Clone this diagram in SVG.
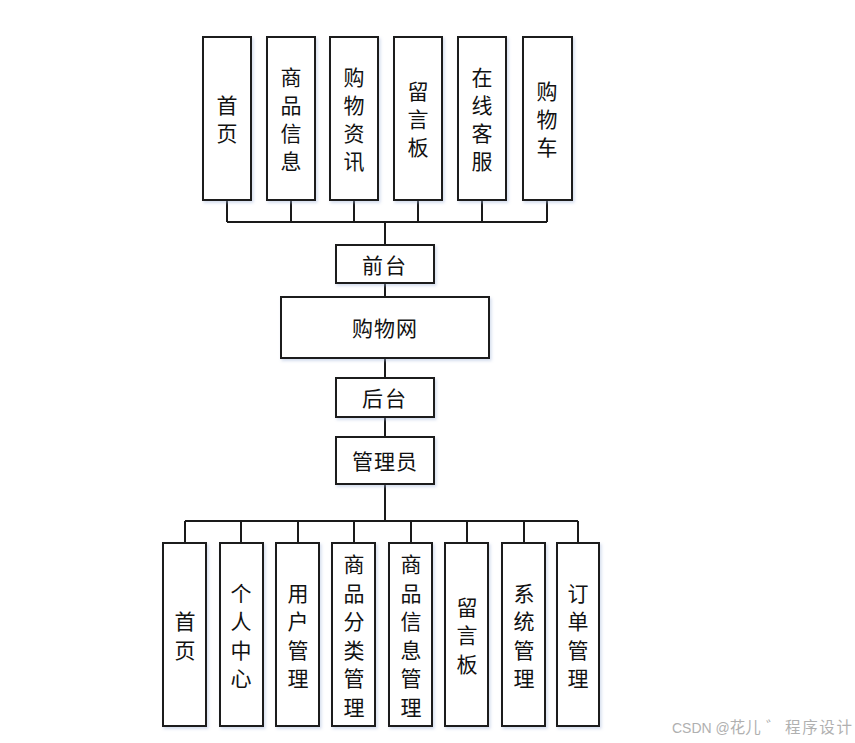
<svg xmlns="http://www.w3.org/2000/svg" width="855" height="743" viewBox="0 0 855 743">
<style>
.b{fill:#fff;stroke:#1a1a1a;stroke-width:2;filter:url(#sh)}
.t{font-family:"Noto Sans CJK SC","Noto Sans",sans-serif;font-size:21px;fill:#111;text-anchor:middle;dominant-baseline:central}
.c{fill:none;stroke:#1a1a1a;stroke-width:2}
.w{font-family:"Liberation Sans","Noto Sans CJK SC",sans-serif;font-size:14px;fill:#b0b0b0}
.wc{font-family:"Noto Sans CJK SC",sans-serif;font-size:15.5px}
</style>
<defs>
<filter id="sh" x="-20%" y="-20%" width="140%" height="140%">
<feDropShadow dx="1.5" dy="2" stdDeviation="1.5" flood-color="#9fb3d9" flood-opacity="0.45"/>
</filter>
</defs>
<rect width="855" height="743" fill="#fff"/>
<g id="connectors" class="c">
<path d="M227 200V222M291 200V222M354 200V222M418 200V222M482 200V222M547 200V222M227 222H547"/>
<path d="M385 222V245M385 283V297M385 358V378M385 417V437M385 484V521"/>
<path d="M185 521H578M185 521V543M241 521V543M298 521V543M354 521V543M411 521V543M467 521V543M524 521V543M578 521V543"/>
</g>
<g id="top1"><rect class="b" x="203" y="37" width="48" height="163"/><text class="t" x="227"><tspan x="227" y="104">首</tspan><tspan x="227" y="132">页</tspan></text></g>
<g id="top2"><rect class="b" x="267" y="37" width="48" height="163"/><text class="t"><tspan x="291" y="76">商</tspan><tspan x="291" y="104">品</tspan><tspan x="291" y="132">信</tspan><tspan x="291" y="160">息</tspan></text></g>
<g id="top3"><rect class="b" x="330" y="37" width="48" height="163"/><text class="t"><tspan x="354" y="76">购</tspan><tspan x="354" y="104">物</tspan><tspan x="354" y="132">资</tspan><tspan x="354" y="160">讯</tspan></text></g>
<g id="top4"><rect class="b" x="394" y="37" width="48" height="163"/><text class="t"><tspan x="418" y="90">留</tspan><tspan x="418" y="118">言</tspan><tspan x="418" y="146">板</tspan></text></g>
<g id="top5"><rect class="b" x="458" y="37" width="48" height="163"/><text class="t"><tspan x="482" y="76">在</tspan><tspan x="482" y="104">线</tspan><tspan x="482" y="132">客</tspan><tspan x="482" y="160">服</tspan></text></g>
<g id="top6"><rect class="b" x="523" y="37" width="49" height="163"/><text class="t"><tspan x="547" y="90">购</tspan><tspan x="547" y="118">物</tspan><tspan x="547" y="146">车</tspan></text></g>
<g id="qiantai"><rect class="b" x="336" y="245" width="98" height="38"/><text class="t" x="385" y="263.5" letter-spacing="2">前台</text></g>
<g id="gouwuwang"><rect class="b" x="281" y="297" width="208" height="61"/><text class="t" x="385" y="326.5" letter-spacing="1">购物网</text></g>
<g id="houtai"><rect class="b" x="336" y="378" width="98" height="39"/><text class="t" x="385" y="396.5" letter-spacing="2">后台</text></g>
<g id="admin"><rect class="b" x="336" y="437" width="98" height="47"/><text class="t" x="385" y="460" letter-spacing="1">管理员</text></g>
<g id="b1"><rect class="b" x="163" y="543" width="43" height="183"/><text class="t"><tspan x="185" y="620">首</tspan><tspan x="185" y="648.5">页</tspan></text></g>
<g id="b2"><rect class="b" x="220" y="543" width="43" height="183"/><text class="t"><tspan x="241" y="591.5">个</tspan><tspan x="241" y="620">人</tspan><tspan x="241" y="648.5">中</tspan><tspan x="241" y="677">心</tspan></text></g>
<g id="b3"><rect class="b" x="276" y="543" width="43" height="183"/><text class="t"><tspan x="298" y="591.5">用</tspan><tspan x="298" y="620">户</tspan><tspan x="298" y="648.5">管</tspan><tspan x="298" y="677">理</tspan></text></g>
<g id="b4"><rect class="b" x="332" y="543" width="43" height="183"/><text class="t"><tspan x="354" y="563">商</tspan><tspan x="354" y="591.5">品</tspan><tspan x="354" y="620">分</tspan><tspan x="354" y="648.5">类</tspan><tspan x="354" y="677">管</tspan><tspan x="354" y="705.5">理</tspan></text></g>
<g id="b5"><rect class="b" x="389" y="543" width="43" height="183"/><text class="t"><tspan x="411" y="563">商</tspan><tspan x="411" y="591.5">品</tspan><tspan x="411" y="620">信</tspan><tspan x="411" y="648.5">息</tspan><tspan x="411" y="677">管</tspan><tspan x="411" y="705.5">理</tspan></text></g>
<g id="b6"><rect class="b" x="445" y="543" width="43" height="183"/><text class="t"><tspan x="467" y="605.5">留</tspan><tspan x="467" y="634">言</tspan><tspan x="467" y="662.5">板</tspan></text></g>
<g id="b7"><rect class="b" x="502" y="543" width="43" height="183"/><text class="t"><tspan x="524" y="591.5">系</tspan><tspan x="524" y="620">统</tspan><tspan x="524" y="648.5">管</tspan><tspan x="524" y="677">理</tspan></text></g>
<g id="b8"><rect class="b" x="557" y="543" width="42" height="183"/><text class="t"><tspan x="578" y="591.5">订</tspan><tspan x="578" y="620">单</tspan><tspan x="578" y="648.5">管</tspan><tspan x="578" y="677">理</tspan></text></g>
<text class="w" x="672" y="733">CSDN @<tspan class="wc">花儿</tspan><tspan class="wc" x="766">゛</tspan><tspan class="wc" x="785" textLength="67" lengthAdjust="spacing">程序设计</tspan></text>
</svg>
